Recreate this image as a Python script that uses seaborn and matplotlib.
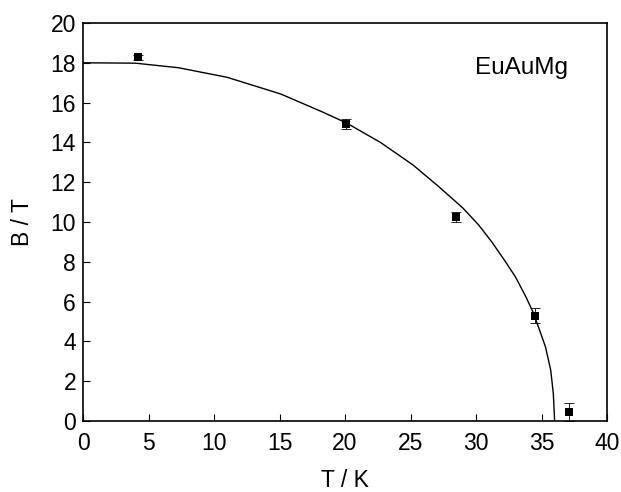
import matplotlib
matplotlib.use("Agg")
import matplotlib.pyplot as plt
import seaborn as sns
import pandas as pd

# Measured critical field points with uncertainties
temp_k = [4.2, 20.1, 28.5, 34.5, 37.1]
field_t = [18.28, 14.93, 10.25, 5.3, 0.45]
field_err = [0.12, 0.25, 0.23, 0.38, 0.47]

# Fitted phase boundary
fit_temp = [0, 4, 7.3, 11.0, 15.1, 18.2, 20.1, 22.7, 25.2, 27.2, 29.0,
            30.2, 31.2, 32.2, 33.0, 33.8, 34.4, 35.3, 35.7, 35.9, 36.0]
fit_field = [18.0, 17.98, 17.75, 17.27, 16.43, 15.55, 14.98, 14.0, 12.86,
             11.75, 10.7, 9.85, 9.0, 8.05, 7.25, 6.25, 5.4, 3.73, 2.56,
             1.38, 0.0]

x_ticks = [0, 5, 10, 15, 20, 25, 30, 35, 40]
y_ticks = [0, 2, 4, 6, 8, 10, 12, 14, 16, 18, 20]

sns.set_theme(style="white")
plt.rcParams["font.family"] = ["Liberation Sans", "DejaVu Sans"]

fig = plt.figure(figsize=(6.21, 4.92), dpi=100)
ax = fig.add_axes([0.1337, 0.1443, 0.8438, 0.8090])

fit_df = pd.DataFrame({"T": fit_temp, "B": fit_field})
pts_df = pd.DataFrame({"T": temp_k, "B": field_t, "err": field_err})

sns.lineplot(data=fit_df, x="T", y="B", sort=False, color="black",
             linewidth=1.0, ax=ax)
ax.errorbar(pts_df["T"], pts_df["B"], yerr=pts_df["err"], fmt="none",
            ecolor="black", elinewidth=0.6, capsize=3.5, capthick=0.6,
            zorder=3)
sns.scatterplot(data=pts_df, x="T", y="B", marker="s", s=36, color="black",
                edgecolor="black", linewidth=0, ax=ax, zorder=4)

ax.set_xlim(0, 40)
ax.set_ylim(0, 20)
ax.set_xticks(x_ticks)
ax.set_yticks(y_ticks)
ax.tick_params(axis="both", which="major", direction="in", length=5,
               width=0.8, color="black", labelsize=16.5, labelcolor="black")
ax.tick_params(axis="x", pad=8, top=False, bottom=True)
ax.tick_params(axis="y", pad=5, right=False, left=True)

for side in ["left", "right", "top", "bottom"]:
    ax.spines[side].set_visible(True)
    ax.spines[side].set_color("black")
    ax.spines[side].set_linewidth(1.2)

ax.set_xlabel("T / K", fontsize=16.5, color="black", labelpad=10)
ax.set_ylabel("B / T", fontsize=16.5, color="black", labelpad=12)

ax.text(0.836, 0.887, "EuAuMg", transform=ax.transAxes, fontsize=17.5,
        ha="center", va="center", color="black")

fig.savefig("out.png", dpi=100)
